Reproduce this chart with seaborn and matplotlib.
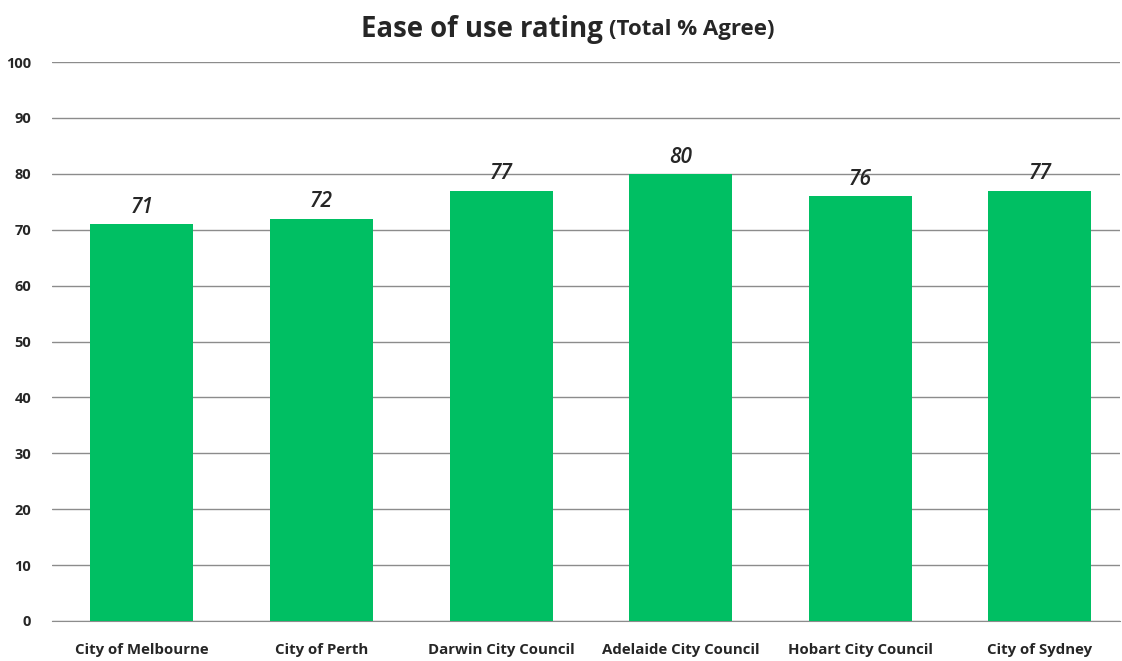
import matplotlib
matplotlib.use("Agg")
import matplotlib.pyplot as plt
import seaborn as sns
import pandas as pd

# dados do gráfico
conselhos = ["City of Melbourne", "City of Perth", "Darwin City Council",
             "Adelaide City Council", "Hobart City Council", "City of Sydney"]
concordam = [71, 72, 77, 80, 76, 77]
ticks_y = [0, 10, 20, 30, 40, 50, 60, 70, 80, 90, 100]

df = pd.DataFrame({"conselho": conselhos, "valor": concordam})

sns.set_style("white")
plt.rcParams["font.family"] = ["Open Sans", "DejaVu Sans"]

fig = plt.figure(figsize=(11.22, 6.61), dpi=100)
ax = fig.add_axes([52 / 1122, 1 - 621 / 661, 1068 / 1122, 559 / 661])

sns.barplot(data=df, x="conselho", y="valor", color="#00BF63",
            saturation=1, width=0.573, ax=ax, zorder=3, edgecolor="none")

ax.set_ylim(0, 100)
ax.set_xlim(-0.5, 5.446)
ax.set_yticks(ticks_y)
ax.set_yticklabels([str(t) for t in ticks_y], fontsize=10.5, fontweight="bold")
ax.set_xticks(range(len(conselhos)))
ax.set_xticklabels(conselhos, fontsize=10.8, fontweight="bold")
ax.tick_params(axis="both", length=0)
ax.tick_params(axis="x", pad=16)
ax.tick_params(axis="y", pad=15)
ax.yaxis.grid(True, color="#8c8c8c", linewidth=1, zorder=0)
ax.set_axisbelow(True)
for s in ["top", "right", "left"]:
    ax.spines[s].set_visible(False)
ax.spines["bottom"].set_color("#8c8c8c")
ax.set_xlabel("")
ax.set_ylabel("")

# rótulos dos valores
for p in ax.patches:
    ax.annotate(f"{p.get_height():.0f}",
                (p.get_x() + p.get_width() / 2, p.get_height()),
                ha="center", va="bottom", xytext=(0, 4.5),
                textcoords="offset points", fontsize=15, fontstyle="italic",
                fontweight="semibold")

fig.text(603 / 1122, 1 - 29 / 661, "Ease of use rating", ha="right", va="center",
         fontsize=19.8, fontweight="bold")
fig.text(609 / 1122, 1 - 30 / 661, "(Total % Agree)", ha="left", va="center",
         fontsize=16, fontweight="bold")

fig.savefig("out.png", dpi=100)
